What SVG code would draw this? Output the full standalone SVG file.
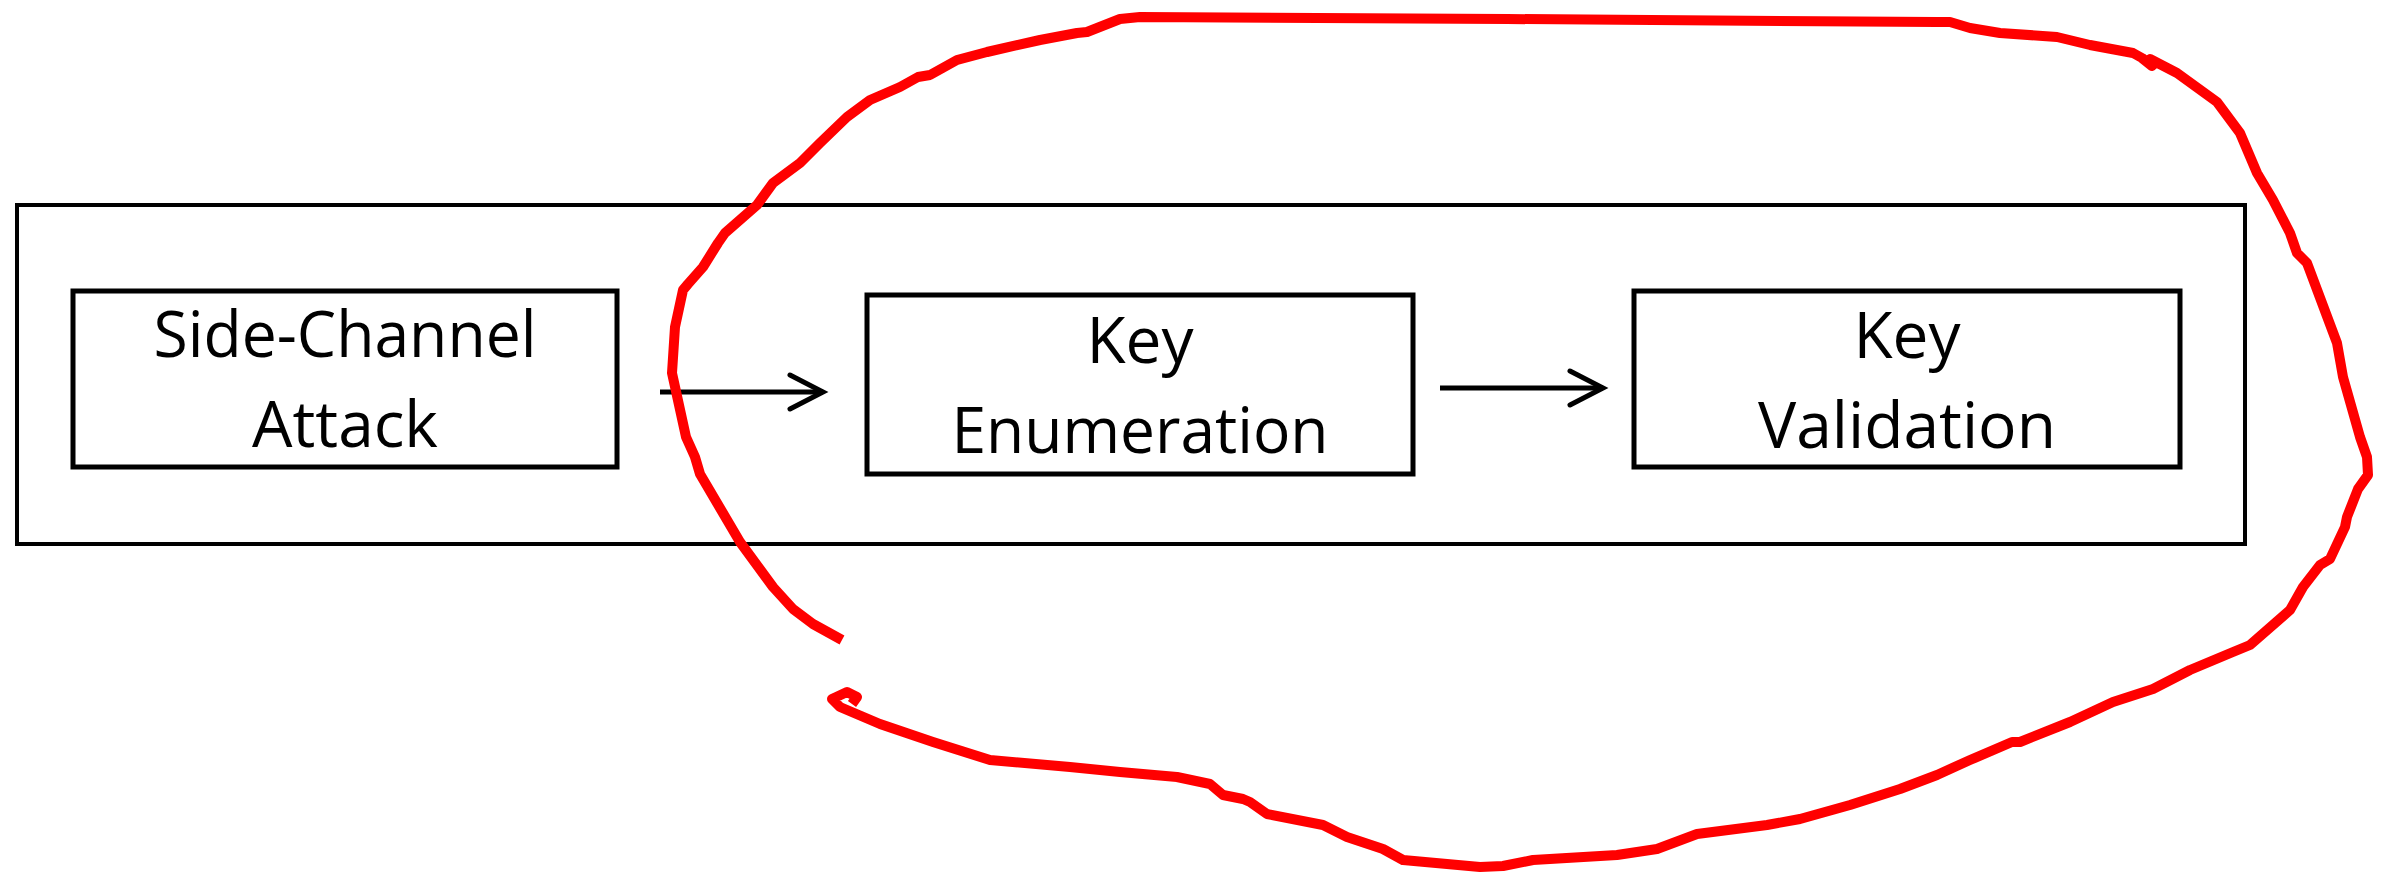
<svg xmlns="http://www.w3.org/2000/svg" width="2387" height="874" viewBox="0 0 2387 874">
<style>
.frame{fill:none;stroke:#000;stroke-width:4}
.box{fill:#fff;stroke:#000;stroke-width:5}
.lbl{font-family:"Open Sans","Noto Sans",sans-serif;font-size:64px;fill:#000;text-anchor:middle}
.conn{stroke:#000;stroke-width:5;fill:none}
.ink{fill:none;stroke:#ff0000;stroke-width:10;stroke-linejoin:round;stroke-linecap:butt}
</style>
<defs>
<marker id="chev" viewBox="-38 -22 44 44" refX="0" refY="0" markerWidth="44" markerHeight="44" markerUnits="userSpaceOnUse" orient="auto">
<path d="M-33,-17 L0,0 L-33,17" fill="none" stroke="#000" stroke-width="5" stroke-linecap="round" stroke-linejoin="miter"/>
</marker>
</defs>
<rect id="container" class="frame" x="17" y="205" width="2228" height="339"/>
<g id="node-side-channel">
<rect class="box" x="73" y="291" width="544" height="176"/>
<text class="lbl" x="345" y="357" textLength="383" lengthAdjust="spacingAndGlyphs">Side-Channel</text>
<text class="lbl" x="345" y="447">Attack</text>
</g>
<g id="node-key-enumeration">
<rect class="box" x="867" y="295" width="546" height="179"/>
<text class="lbl" x="1140" y="363">Key</text>
<text class="lbl" x="1140" y="453" textLength="377" lengthAdjust="spacingAndGlyphs">Enumeration</text>
</g>
<g id="node-key-validation">
<rect class="box" x="1634" y="291" width="546" height="176"/>
<text class="lbl" x="1907" y="358">Key</text>
<text class="lbl" x="1907" y="448" textLength="298" lengthAdjust="spacingAndGlyphs">Validation</text>
</g>
<g id="connectors">
<line class="conn" x1="660" y1="392" x2="823" y2="392" marker-end="url(#chev)"/>
<line class="conn" x1="1440" y1="388" x2="1603" y2="388" marker-end="url(#chev)"/>
</g>
<path id="red-loop" class="ink" d="M842,640 L813,624 L793,609 L773,587 L740,542 L700,474 L695,457 L686,437 L672,373 L675,327 L683,290 L688,284 L703,267 L718,243 L725,233 L757,205 L773,183 L800,163 L820,143 L847,117 L870,100 L900,87 L918,77 L930,75 L957,60 L987,52 L1040,40 L1077,33 L1087,32 L1120,19 L1140,17 L1507,19 L1937,22 L1950,22 L1970,28 L2000,33 L2057,37 L2090,45 L2133,53 L2142,58 L2152,66 L2150,59 L2177,73 L2217,102 L2240,133 L2257,173 L2273,200 L2290,233 L2297,253 L2307,263 L2337,343 L2343,377 L2360,437 L2367,457 L2368,475 L2358,489 L2347,517 L2345,527 L2330,559 L2320,565 L2303,587 L2290,610 L2250,645 L2233,652 L2190,670 L2153,689 L2113,702 L2070,722 L2020,742 L2012,742 L1970,760 L1937,775 L1900,789 L1850,805 L1800,819 L1767,825 L1697,834 L1657,849 L1617,855 L1533,860 L1503,866 L1480,867 L1403,860 L1383,849 L1347,837 L1323,825 L1267,814 L1250,802 L1243,799 L1223,795 L1210,784 L1177,777 L1120,772 L1070,767 L990,760 L933,742 L880,724 L840,707 L832,699 L847,692 L857,697 L852,704"/>
</svg>
